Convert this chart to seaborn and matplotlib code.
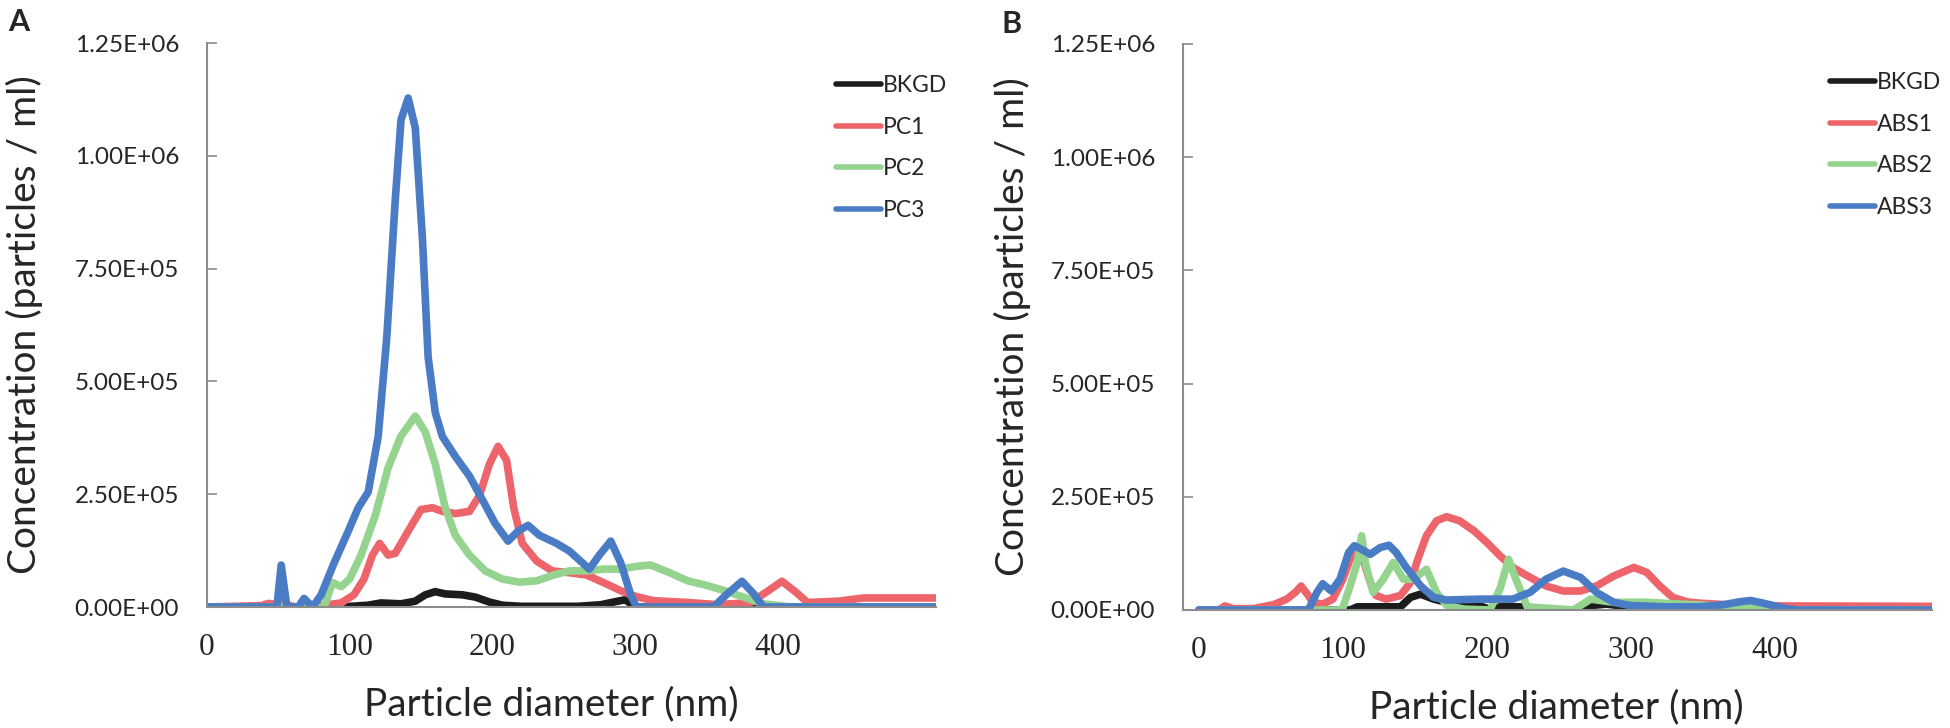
import pandas as pd
import matplotlib.pyplot as plt
import seaborn as sns
from matplotlib.ticker import FuncFormatter

sns.set_theme(style="white")
plt.rcParams['font.family'] = ['Lato', 'DejaVu Sans']

# ---- Panel A: PC samples (diameter nm, concentration particles/ml) ----
bkgd_a_x = [0, 94, 113, 122, 136, 146, 153, 160, 167, 179, 188, 198, 207, 220, 260, 276, 285, 293, 301, 510]
bkgd_a_y = [0, 0, 4000, 9000, 7000, 13000, 27000, 34000, 29000, 27000, 22000, 11000, 4000, 1500, 1500, 5000,
            11000, 16000, 0, 0]

pc1_x = [0, 38, 43, 48, 52, 56, 62, 80, 94, 103, 110, 116, 121, 127, 132, 141, 150, 158, 165, 174, 184, 191,
         198, 204, 210, 215, 221, 231, 242, 254, 266, 278, 290, 301, 313, 337, 358, 381, 393, 403, 412, 421, 443,
         460, 510]
pc1_y = [0, 3000, 8000, 6000, 12000, 5000, 0, 3000, 9000, 27000, 62000, 115000, 141000, 115000, 119000, 168000,
         216000, 220000, 212000, 207000, 212000, 247000, 317000, 356000, 325000, 220000, 141000, 102000, 80000,
         76000, 71000, 54000, 36000, 23000, 14000, 10000, 5000, 10000, 35000, 57000, 35000, 10000, 13000, 20000,
         20000]

pc2_x = [0, 82, 88, 94, 100, 108, 118, 127, 136, 146, 153, 160, 167, 174, 184, 195, 207, 219, 231, 243, 254,
         266, 278, 290, 301, 311, 325, 337, 349, 363, 390, 410, 510]
pc2_y = [0, 0, 54000, 45000, 62000, 115000, 203000, 309000, 379000, 423000, 388000, 317000, 220000, 159000,
         115000, 80000, 62000, 55000, 58000, 71000, 80000, 80000, 84000, 84000, 90000, 93000, 75000, 58000, 49000,
         36000, 7000, 0, 0]

pc3_x = [0, 49, 52, 56, 59, 64, 68, 74, 80, 89, 99, 106, 113, 120, 126, 132, 136, 141, 146, 151, 155, 160, 165,
         174, 184, 193, 202, 211, 218, 225, 233, 245, 254, 268, 275, 283, 290, 297, 301, 355, 365, 375, 383, 390,
         510]
pc3_y = [0, 0, 93000, 0, 0, 0, 19000, 0, 27000, 97000, 168000, 220000, 255000, 378000, 597000, 904000, 1080000,
         1128000, 1062000, 817000, 554000, 431000, 378000, 334000, 290000, 238000, 185000, 146000, 168000, 181000,
         159000, 141000, 124000, 84000, 115000, 146000, 98000, 27000, 0, 0, 30000, 57000, 30000, 0, 0]

# ---- Panel B: ABS samples ----
bkgd_b_x = [0, 105, 110, 125, 140, 147, 154, 163, 172, 184, 195, 204, 209, 217, 225, 230, 260, 269, 283, 299,
            330, 345, 510]
bkgd_b_y = [0, 0, 7000, 7000, 7000, 28000, 35000, 24000, 17000, 13000, 9000, 0, 7000, 7000, 7000, 0, 0, 9000,
            13000, 7000, 5000, 0, 0]

abs1_x = [0, 12, 15, 18, 24, 38, 52, 61, 67, 71, 76, 79, 86, 93, 100, 105, 110, 114, 119, 123, 130, 140, 147,
          152, 158, 165, 172, 181, 191, 200, 209, 218, 230, 241, 253, 265, 276, 288, 302, 311, 320, 329, 339, 348,
          365, 400, 510]
abs1_y = [0, 0, 2000, 9000, 3000, 3000, 12000, 24000, 39000, 53000, 32000, 17000, 13000, 24000, 68000, 112000,
          134000, 112000, 61000, 32000, 24000, 32000, 61000, 112000, 164000, 197000, 206000, 197000, 175000,
          149000, 120000, 94000, 72000, 53000, 42000, 42000, 53000, 75000, 94000, 83000, 53000, 28000, 18000,
          15000, 12000, 9000, 8000]

abs2_x = [0, 98, 100, 105, 110, 113, 116, 121, 128, 135, 142, 149, 158, 165, 172, 184, 202, 209, 215, 221, 228,
          260, 272, 288, 311, 334, 370, 400, 410, 510]
abs2_y = [0, 0, 5000, 53000, 105000, 164000, 98000, 39000, 68000, 105000, 68000, 68000, 90000, 39000, 10000,
          2000, 0, 46000, 112000, 61000, 7000, 0, 24000, 17000, 17000, 13000, 8000, 5000, 0, 0]

abs3_x = [0, 76, 82, 86, 92, 98, 104, 108, 113, 119, 126, 132, 137, 144, 154, 163, 172, 195, 218, 230, 241, 253,
          265, 276, 288, 299, 323, 348, 365, 375, 383, 392, 405, 415, 510]
abs3_y = [0, 0, 39000, 58000, 42000, 68000, 127000, 142000, 134000, 123000, 138000, 143000, 127000, 94000, 53000,
          28000, 22000, 24000, 24000, 39000, 68000, 86000, 72000, 39000, 17000, 10000, 7000, 7000, 12000, 18000,
          21000, 15000, 5000, 0, 0]

names_a = ['BKGD', 'PC1', 'PC2', 'PC3']
names_b = ['BKGD', 'ABS1', 'ABS2', 'ABS3']
colors = ['#1c1c1c', '#ee646b', '#94d48f', '#4a7cc6']
y_ticks = [0, 250000, 500000, 750000, 1000000, 1250000]
x_ticks = [0, 100, 200, 300, 400]


def long_form(names, xs, ys):
    frames = []
    for name, x, y in zip(names, xs, ys):
        frames.append(pd.DataFrame({'diameter': x, 'conc': y, 'sample': name}))
    return pd.concat(frames, ignore_index=True)


def draw_panel(fig, rect, df, names, xlim, letter, letter_xy, legend_xy, ylabel_x, xlabel_x):
    ax = fig.add_axes(rect)
    sns.lineplot(data=df, x='diameter', y='conc', hue='sample', hue_order=names,
                 palette=dict(zip(names, colors)), estimator=None, sort=False,
                 linewidth=5.5, solid_joinstyle='round', solid_capstyle='round',
                 ax=ax, legend=True)
    ax.set_xlim(*xlim)
    ax.set_ylim(0, 1250000)
    ax.set_yticks(y_ticks)
    ax.set_xticks(x_ticks)
    ax.yaxis.set_major_formatter(FuncFormatter(lambda v, p: f"{v:.2E}"))
    for s in ['top', 'right']:
        ax.spines[s].set_visible(False)
    for s in ['left', 'bottom']:
        ax.spines[s].set_color('#8c8c8c')
        ax.spines[s].set_linewidth(1.5)
    ax.tick_params(axis='y', direction='in', length=7, width=1.2, color='#8c8c8c',
                   pad=20, labelsize=17.5, left=True)
    ax.tick_params(axis='x', length=0, pad=19)
    for lab in ax.get_xticklabels():
        lab.set_fontfamily('Liberation Serif')
        lab.set_fontsize(22.5)

    ax.set_xlabel('Particle diameter (nm)', fontsize=28, va='center')
    ax.xaxis.set_label_coords(xlabel_x, -0.172)
    ax.set_ylabel('Concentration (particles / ml)', fontsize=28, va='center')
    ax.yaxis.set_label_coords(ylabel_x, 0.5)

    handles, labels = ax.get_legend_handles_labels()
    leg = ax.legend(handles, labels, loc='upper left', bbox_to_anchor=legend_xy,
                    bbox_transform=fig.transFigure, frameon=False, fontsize=16.5,
                    handlelength=1.95, handletextpad=0.1, labelspacing=0.9,
                    borderpad=0, borderaxespad=0)
    for line in leg.get_lines():
        line.set_linewidth(4)

    fig.text(letter_xy[0], letter_xy[1], letter, fontsize=22, fontweight='bold',
             ha='left', va='top')
    return ax


fig = plt.figure(figsize=(19.5, 7.28), dpi=100)

df_a = long_form(names_a, [bkgd_a_x, pc1_x, pc2_x, pc3_x], [bkgd_a_y, pc1_y, pc2_y, pc3_y])
df_b = long_form(names_b, [bkgd_b_x, abs1_x, abs2_x, abs3_x], [bkgd_b_y, abs1_y, abs2_y, abs3_y])

draw_panel(fig, [207 / 1950, 1 - 607 / 728, 729 / 1950, 564 / 728], df_a, names_a, (0, 511),
           'A', (8 / 1950, 1 - 8 / 728), (836 / 1950, 1 - 75 / 728), -0.250, 0.472)
draw_panel(fig, [1183 / 1950, 1 - 610 / 728, 749 / 1950, 566 / 728], df_b, names_b, (-11, 509),
           'B', (1002 / 1950, 1 - 10 / 728), (1830 / 1950, 1 - 72 / 728), -0.228, 0.498)

fig.savefig('out.png', dpi=100, facecolor='white')
